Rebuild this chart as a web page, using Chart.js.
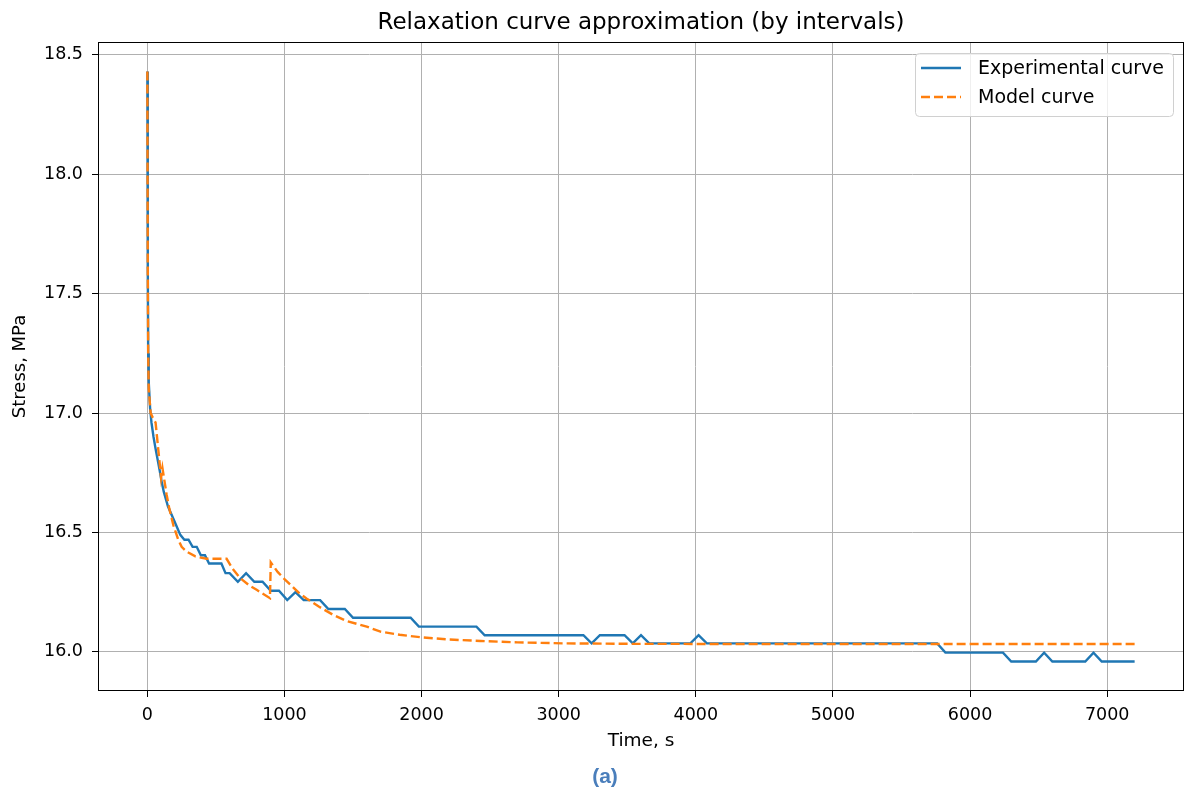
<!DOCTYPE html>
<html>
<head>
<meta charset="utf-8">
<script src="https://cdn.jsdelivr.net/npm/chart.js@4"></script>
<style>
    html, body { margin: 0; padding: 0; background: #fff; }
    #wrap { width: 1185px; height: 792px; position: relative; }
</style>
</head>
<body>
<div id="wrap"><canvas id="relaxChart"></canvas></div>
<script>
// Experimental relaxation curve (time in s, stress in MPa)
const expTime = [0, 3, 6, 10, 20, 30, 45, 60, 90, 105, 120, 150, 180, 210, 240, 270, 300, 330, 360, 390, 420,
    450, 540, 570, 600, 660, 720, 780, 840, 900, 960, 1020, 1080, 1140, 1260, 1320, 1440, 1500, 1920, 1980,
    2400, 2460, 3180, 3240, 3300, 3480, 3540, 3600, 3660, 3960, 4020, 4080, 5760, 5820, 6240, 6300, 6480,
    6540, 6600, 6840, 6900, 6960, 7200];
const expStress = [18.43, 17.6, 17.25, 17.13, 17.02, 16.96, 16.9, 16.85, 16.76, 16.71, 16.67, 16.61, 16.57,
    16.53, 16.49, 16.47, 16.47, 16.44, 16.44, 16.405, 16.405, 16.37, 16.37, 16.33, 16.33, 16.294, 16.33,
    16.294, 16.294, 16.256, 16.256, 16.217, 16.25, 16.217, 16.217, 16.18, 16.18, 16.143, 16.143, 16.106,
    16.106, 16.07, 16.07, 16.036, 16.07, 16.07, 16.036, 16.07, 16.036, 16.036, 16.07, 16.036, 16.036,
    15.997, 15.997, 15.96, 15.96, 15.997, 15.96, 15.96, 15.997, 15.96, 15.96];

// Model curve fitted by intervals
const modelTime = [0, 3, 6, 10, 24, 40, 60, 100, 110, 140, 160, 190, 225, 250, 286, 350, 432, 578, 620, 675,
    740, 797, 894, 900, 950, 1000, 1100, 1160, 1250, 1356, 1450, 1600, 1700, 1840, 2000, 2200, 2430, 2700,
    3030, 3500, 4500, 7200];
const modelStress = [18.43, 17.6, 17.25, 17.1, 17.0, 16.98, 16.96, 16.73, 16.77, 16.66, 16.6, 16.53, 16.47,
    16.44, 16.42, 16.4, 16.39, 16.39, 16.35, 16.31, 16.28, 16.26, 16.225, 16.375, 16.335, 16.305, 16.25,
    16.224, 16.19, 16.155, 16.13, 16.106, 16.085, 16.072, 16.061, 16.052, 16.046, 16.04, 16.036, 16.034,
    16.033, 16.033];

const xTicks = [0, 1000, 2000, 3000, 4000, 5000, 6000, 7000];
const yTicks = [16.0, 16.5, 17.0, 17.5, 18.0, 18.5];

const seriesNames = ["Experimental curve", "Model curve"];
const blue = "#1f77b4";
const orange = "#ff7f0e";
const dash = [9, 4];
const font = "'DejaVu Sans', sans-serif";

Chart.defaults.font.family = font;
Chart.defaults.color = "#000";

const toPoints = (xs, ys) => xs.map((x, i) => ({ x: x, y: ys[i] }));

// frame, title, legend box and caption
const extras = {
    id: "extras",
    afterDraw(chart) {
        const { ctx, chartArea: a } = chart;
        ctx.save();
        ctx.strokeStyle = "#000";
        ctx.lineWidth = 1;
        ctx.strokeRect(a.left + 0.5, a.top + 0.5, a.right - a.left - 1, a.bottom - a.top - 1);

        ctx.fillStyle = "#000";
        ctx.textAlign = "center";
        ctx.textBaseline = "middle";
        ctx.font = "23px " + font;
        ctx.fillText("Relaxation curve approximation (by intervals)", (a.left + a.right) / 2, 23);

        // legend
        const bx = 915.5, by = 53.5, bw = 258, bh = 63;
        ctx.beginPath();
        ctx.roundRect(bx, by, bw, bh, 4);
        ctx.fillStyle = "rgba(255,255,255,0.8)";
        ctx.fill();
        ctx.strokeStyle = "#d0d0d0";
        ctx.stroke();

        const rows = [68, 97];
        const styles = [{ c: blue, d: [] }, { c: orange, d: dash }];
        ctx.lineWidth = 2.4;
        rows.forEach((ry, i) => {
            ctx.beginPath();
            ctx.setLineDash(styles[i].d);
            ctx.strokeStyle = styles[i].c;
            ctx.moveTo(921, ry);
            ctx.lineTo(961, ry);
            ctx.stroke();
        });
        ctx.setLineDash([]);
        ctx.fillStyle = "#000";
        ctx.textAlign = "left";
        ctx.font = "19px " + font;
        rows.forEach((ry, i) => ctx.fillText(seriesNames[i], 978, ry + 1));

        // figure caption
        ctx.textAlign = "center";
        ctx.fillStyle = "#4a7ebb";
        ctx.font = "bold 21px 'Liberation Sans', Arial, sans-serif";
        ctx.fillText("(a)", 605, 777);
        ctx.restore();
    },
};

const ctx = document.getElementById("relaxChart").getContext("2d");
new Chart(ctx, {
    type: "line",
    data: {
        datasets: [
            {
                label: seriesNames[0],
                data: toPoints(expTime, expStress),
                borderColor: blue,
                borderWidth: 2.4,
                pointRadius: 0,
                tension: 0,
                order: 2,
            },
            {
                label: seriesNames[1],
                data: toPoints(modelTime, modelStress),
                borderColor: orange,
                borderWidth: 2.4,
                borderDash: dash,
                pointRadius: 0,
                tension: 0,
                order: 1,
            },
        ],
    },
    options: {
        responsive: true,
        maintainAspectRatio: false,
        animation: false,
        layout: { padding: { top: 42, right: 1, bottom: 37, left: 0 } },
        plugins: {
            legend: { display: false },
            title: { display: false },
            tooltip: { enabled: false },
        },
        scales: {
            x: {
                type: "linear",
                min: -360,
                max: 7560,
                afterBuildTicks: (s) => { s.ticks = xTicks.map((v) => ({ value: v })); },
                afterFit: (s) => { s.height = 64; },
                ticks: {
                    autoSkip: false,
                    maxRotation: 0,
                    padding: 8,
                    font: { size: 17.5 },
                    callback: (v) => String(v),
                },
                grid: { color: "#b0b0b0", lineWidth: 1, tickLength: 6, tickColor: "#000" },
                border: { display: false },
                title: { display: true, text: "Time, s", font: { size: 18.5 }, padding: { top: 0, bottom: 3 } },
            },
            y: {
                type: "linear",
                min: 15.8365,
                max: 18.5535,
                afterBuildTicks: (s) => { s.ticks = yTicks.map((v) => ({ value: v })); },
                afterFit: (s) => { s.width = 98; },
                ticks: {
                    autoSkip: false,
                    padding: 9,
                    font: { size: 17.5 },
                    callback: (v) => v.toFixed(1),
                },
                grid: { color: "#b0b0b0", lineWidth: 1, tickLength: 6, tickColor: "#000" },
                border: { display: false },
                title: { display: true, text: "Stress, MPa", font: { size: 18 }, padding: { top: 10, bottom: 0 } },
            },
        },
    },
    plugins: [extras],
});
</script>
</body>
</html>
